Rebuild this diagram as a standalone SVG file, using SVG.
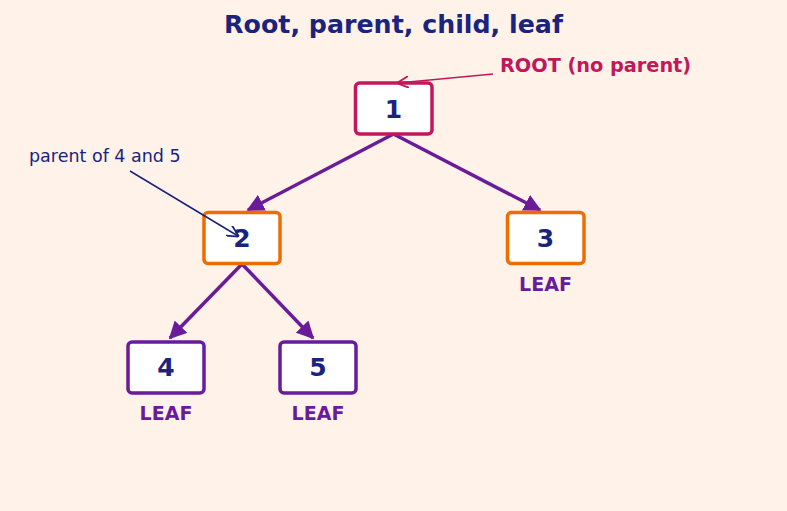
<svg xmlns="http://www.w3.org/2000/svg" width="787" height="511" viewBox="0 0 787 511">
<defs>
<style>
.nd{fill:#ffffff;stroke-width:3.5}
.num{font-family:"DejaVu Sans",sans-serif;font-weight:bold;font-size:25px;fill:#1a237e;text-anchor:middle}
.leaf{font-family:"DejaVu Sans",sans-serif;font-weight:bold;font-size:19px;fill:#6a1b9a;text-anchor:middle}
.edge{stroke:#6a1b9a;stroke-width:3.5;fill:none;marker-end:url(#ah)}
</style>
<marker id="ah" viewBox="0 0 10 10" refX="9" refY="5" markerWidth="5" markerHeight="5" orient="auto" markerUnits="strokeWidth">
<path d="M0,0 L10,5 L0,10 z" fill="#6a1b9a"/>
</marker>
<marker id="ahr" viewBox="0 0 10 10" refX="9" refY="5" markerWidth="8" markerHeight="8" orient="auto" markerUnits="strokeWidth">
<path d="M0,0 L10,5 L0,10" fill="none" stroke="#c2185b" stroke-width="1.5"/>
</marker>
<marker id="ahn" viewBox="0 0 10 10" refX="9" refY="5" markerWidth="8" markerHeight="8" orient="auto" markerUnits="strokeWidth">
<path d="M0,0 L10,5 L0,10" fill="none" stroke="#1a237e" stroke-width="1.5"/>
</marker>
</defs>
<rect width="787" height="511" fill="#fff2e8"/>
<text x="393.5" y="33" font-family="DejaVu Sans,sans-serif" font-weight="bold" font-size="25.3" fill="#1a237e" text-anchor="middle">Root, parent, child, leaf</text>
<g id="connectors">
<line class="edge" x1="393.5" y1="134" x2="248" y2="210"/>
<line class="edge" x1="393.5" y1="134" x2="540" y2="210"/>
<line class="edge" x1="242" y1="264" x2="170" y2="338"/>
<line class="edge" x1="242" y1="264" x2="313" y2="338"/>
</g>
<g id="node1">
<rect class="nd" x="355.5" y="83" width="76.5" height="51" rx="4" stroke="#c2185b"/>
<text class="num" x="393.5" y="117.5">1</text>
</g>
<g id="node2">
<rect class="nd" x="204" y="212.5" width="76" height="51" rx="4" stroke="#ef6c00"/>
<text class="num" x="242" y="247">2</text>
</g>
<g id="node3">
<rect class="nd" x="507.5" y="212.5" width="76.5" height="51" rx="4" stroke="#ef6c00"/>
<text class="num" x="545.5" y="247">3</text>
<text class="leaf" x="545.5" y="290.5">LEAF</text>
</g>
<g id="node4">
<rect class="nd" x="128" y="342" width="76" height="51" rx="4" stroke="#6a1b9a"/>
<text class="num" x="166" y="376">4</text>
<text class="leaf" x="166" y="420">LEAF</text>
</g>
<g id="node5">
<rect class="nd" x="280" y="342" width="76" height="51" rx="4" stroke="#6a1b9a"/>
<text class="num" x="318" y="376">5</text>
<text class="leaf" x="318" y="420">LEAF</text>
</g>
<g id="annotations">
<line x1="493" y1="74" x2="398" y2="83" stroke="#c2185b" stroke-width="1.5" marker-end="url(#ahr)"/>
<text x="500" y="71.5" font-family="DejaVu Sans,sans-serif" font-weight="bold" font-size="19.3" fill="#c2185b">ROOT (no parent)</text>
<line x1="130" y1="171" x2="238" y2="236" stroke="#1a237e" stroke-width="1.5" marker-end="url(#ahn)"/>
<text x="29" y="162" font-family="DejaVu Sans,sans-serif" font-size="17.5" fill="#1a237e">parent of 4 and 5</text>
</g>
</svg>
